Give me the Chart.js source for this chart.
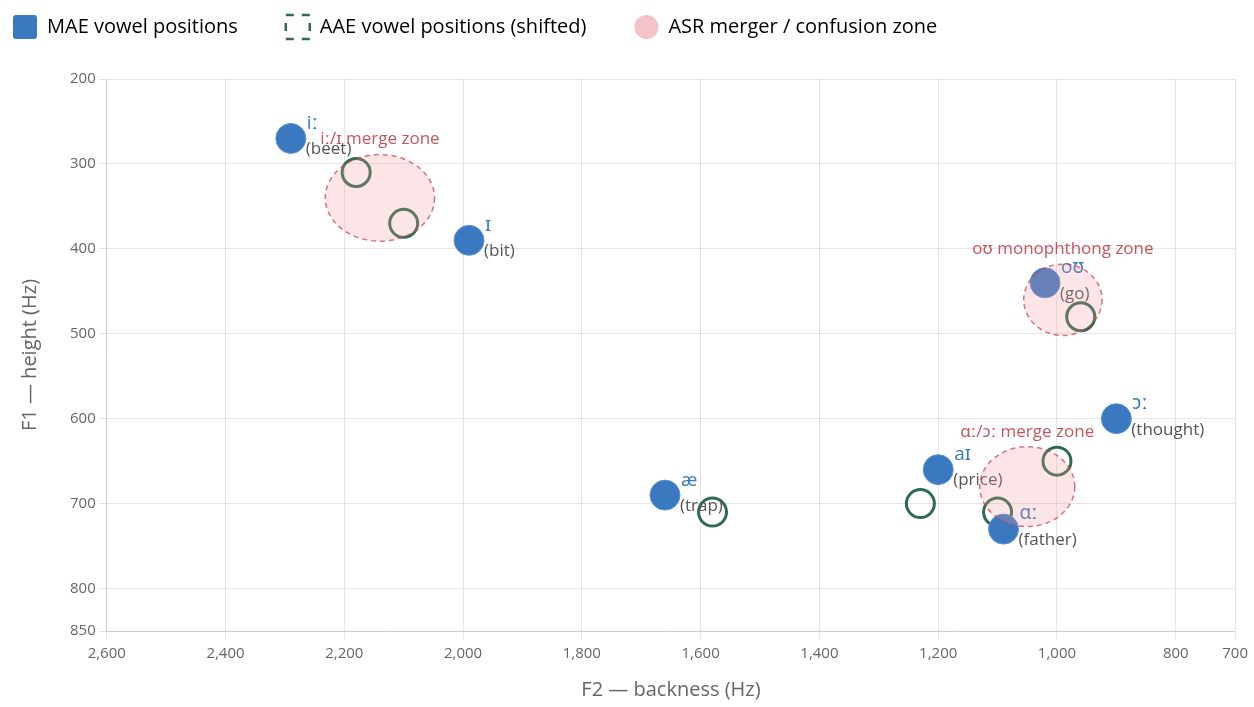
<!DOCTYPE html>
<html>
<head>
<meta charset="utf-8">
<script src="https://cdn.jsdelivr.net/npm/chart.js@4.4.1/dist/chart.umd.min.js"></script>
<style>
  html, body { margin: 0; padding: 0; background: #fff; }
  #wrap { width: 1254px; height: 707px; }
</style>
</head>
<body>
<div id="wrap"><canvas id="vowelChart"></canvas></div>
<script>
// vowel data (F2 = backness, F1 = height)
var vowelSymbols = ['iː', 'ɪ', 'æ', 'aɪ', 'ɑː', 'ɔː', 'oʊ'];
var vowelWords = ['(beet)', '(bit)', '(trap)', '(price)', '(father)', '(thought)', '(go)'];
var maeF2 = [2290, 1990, 1660, 1200, 1090, 900, 1020];
var maeF1 = [270, 390, 690, 660, 730, 600, 440];
var aaeF2 = [2180, 2100, 1580, 1230, 1100, 1000, 960];
var aaeF1 = [310, 370, 710, 700, 710, 650, 480];

// ASR merger zones: centre and radii in Hz
var zoneNames = ['iː/ɪ merge zone', 'oʊ monophthong zone', 'ɑː/ɔː merge zone'];
var zoneF2 = [2140, 990, 1050];
var zoneF1 = [340, 460, 680];
var zoneF2Radius = [92, 66, 80];
var zoneF1Radius = [51, 42, 47];

var legendNames = ['MAE vowel positions', 'AAE vowel positions (shifted)', 'ASR merger / confusion zone'];

var FONT = '"Open Sans", "Noto Sans", sans-serif';
var BLUE = '#3a78c0';
var GREEN = '#2f6b4f';

function toPoints(xs, ys) {
  return xs.map(function (x, i) { return { x: x, y: ys[i] }; });
}

// leave a gap between the legend and the plot
var legendSpacer = {
  id: 'legendSpacer',
  beforeInit: function (chart) {
    var fit = chart.legend.fit;
    chart.legend.fit = function () {
      fit.bind(chart.legend)();
      this.height += 30;
    };
  }
};

var vowelLabels = {
  id: 'vowelLabels',
  afterDatasetsDraw: function (chart) {
    var ctx = chart.ctx;
    var meta = chart.getDatasetMeta(0);
    ctx.save();
    ctx.textAlign = 'left';
    ctx.textBaseline = 'middle';
    meta.data.forEach(function (pt, i) {
      ctx.fillStyle = BLUE;
      ctx.font = '19px ' + FONT;
      ctx.fillText(vowelSymbols[i], pt.x + 16, pt.y - 15);
      ctx.fillStyle = '#555';
      ctx.font = '17px ' + FONT;
      ctx.fillText(vowelWords[i], pt.x + 15, pt.y + 11);
    });
    ctx.restore();
  }
};

var mergeZones = {
  id: 'mergeZones',
  afterDatasetsDraw: function (chart) {
    var ctx = chart.ctx;
    var xs = chart.scales.x, ys = chart.scales.y;
    ctx.save();
    zoneNames.forEach(function (name, i) {
      var cx = xs.getPixelForValue(zoneF2[i]);
      var cy = ys.getPixelForValue(zoneF1[i]);
      var rx = Math.abs(xs.getPixelForValue(zoneF2[i] + zoneF2Radius[i]) - cx);
      var ry = Math.abs(ys.getPixelForValue(zoneF1[i] + zoneF1Radius[i]) - cy);
      ctx.beginPath();
      ctx.ellipse(cx, cy, rx, ry, 0, 0, Math.PI * 2);
      ctx.fillStyle = 'rgba(240, 150, 160, 0.25)';
      ctx.fill();
      ctx.setLineDash([5, 4]);
      ctx.lineWidth = 1.5;
      ctx.strokeStyle = 'rgba(200, 70, 85, 0.75)';
      ctx.stroke();
      ctx.setLineDash([]);
      ctx.fillStyle = 'rgba(185, 55, 65, 0.85)';
      ctx.font = '17px ' + FONT;
      ctx.textAlign = 'center';
      ctx.textBaseline = 'middle';
      ctx.fillText(name, cx, cy - ry - 15);
    });
    ctx.restore();
  }
};

document.addEventListener('DOMContentLoaded', function () {
  var ctx = document.getElementById('vowelChart').getContext('2d');
  new Chart(ctx, {
    type: 'scatter',
    data: {
      datasets: [{
        label: legendNames[0],
        data: toPoints(maeF2, maeF1),
        backgroundColor: BLUE,
        borderColor: '#5b93d3',
        borderWidth: 1,
        pointRadius: 15,
        pointHoverRadius: 15
      }, {
        label: legendNames[1],
        data: toPoints(aaeF2, aaeF1),
        backgroundColor: 'rgba(255,255,255,0)',
        borderColor: GREEN,
        borderWidth: 3,
        pointRadius: 14,
        pointHoverRadius: 14
      }, {
        label: legendNames[2],
        data: [],
        backgroundColor: 'rgba(240, 160, 168, 0.5)',
        borderColor: 'rgba(240, 160, 168, 0.5)'
      }]
    },
    options: {
      responsive: true,
      maintainAspectRatio: false,
      animation: false,
      layout: { padding: { top: -33, left: -35, right: 8, bottom: 2 } },
      plugins: {
        tooltip: { enabled: false },
        legend: {
          position: 'top',
          align: 'start',
          labels: {
            color: '#6b6b6b',
            font: { size: 20, family: FONT },
            padding: 48,
            boxWidth: 24,
            boxHeight: 24,
            useBorderRadius: true,
            generateLabels: function () {
              return [{
                text: legendNames[0], fillStyle: BLUE, strokeStyle: BLUE,
                lineWidth: 0, borderRadius: 3, datasetIndex: 0
              }, {
                text: legendNames[1], fillStyle: 'rgba(255,255,255,0)', strokeStyle: GREEN,
                lineWidth: 2.5, lineDash: [8, 8], borderRadius: 0, datasetIndex: 1
              }, {
                text: legendNames[2], fillStyle: 'rgba(240, 170, 176, 0.7)', strokeStyle: 'rgba(240, 170, 176, 0)',
                lineWidth: 0, borderRadius: 12, datasetIndex: 2
              }];
            }
          }
        }
      },
      scales: {
        x: {
          type: 'linear',
          reverse: true,
          min: 700,
          max: 2600,
          ticks: {
            stepSize: 200,
            color: '#666',
            font: { size: 15, family: FONT },
            maxRotation: 0,
            padding: 6,
            callback: function (v) { return v.toLocaleString('en-US'); }
          },
          title: {
            display: true,
            text: 'F2 — backness (Hz)',
            color: '#666',
            font: { size: 20, family: FONT },
            padding: { top: 9, bottom: 3 }
          }
        },
        y: {
          reverse: true,
          min: 200,
          max: 850,
          ticks: {
            stepSize: 100,
            color: '#666',
            font: { size: 15, family: FONT }
          },
          title: {
            display: true,
            text: 'F1 — height (Hz)',
            color: '#666',
            font: { size: 20, family: FONT },
            padding: { top: 53, bottom: 25 }
          }
        }
      }
    },
    plugins: [legendSpacer, vowelLabels, mergeZones]
  });
});
</script>
</body>
</html>
